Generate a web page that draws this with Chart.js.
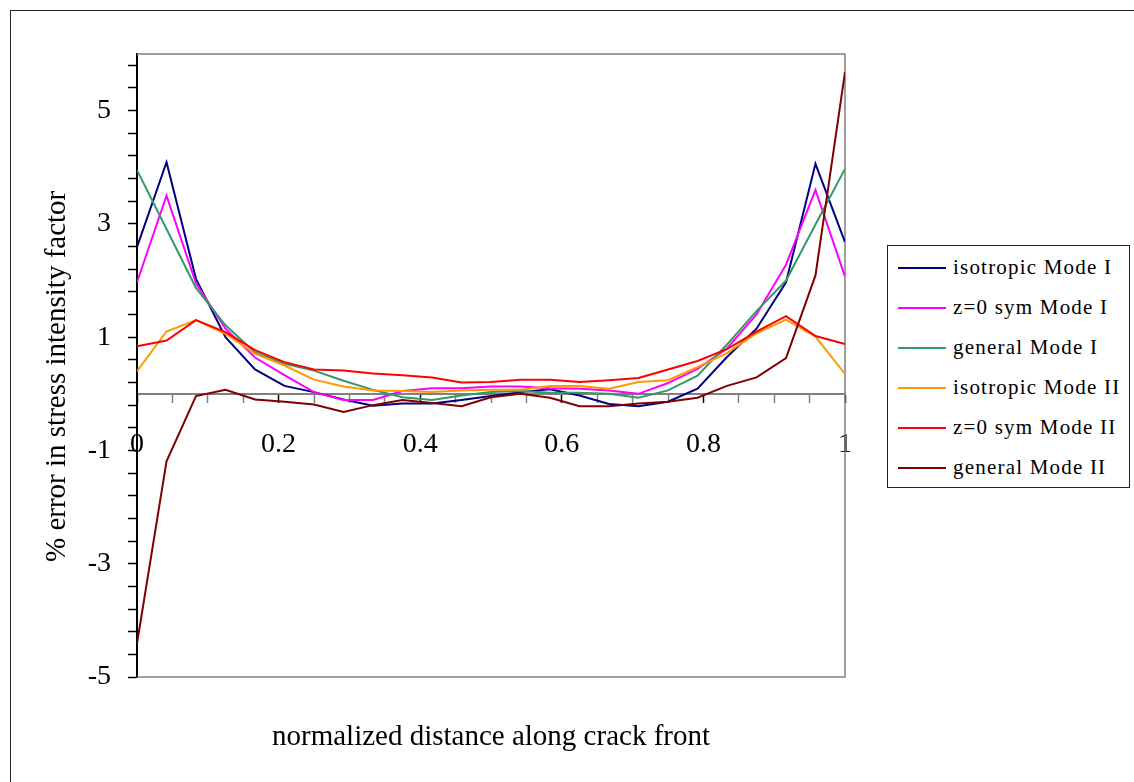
<!DOCTYPE html>
<html>
<head>
<meta charset="utf-8">
<script src="https://cdn.jsdelivr.net/npm/chart.js@4.4.1/dist/chart.umd.min.js"></script>
<style>
    body { margin: 0; background: #fff; font-family: "Liberation Serif", "DejaVu Serif", serif; }
    #wrap { position: relative; width: 1134px; height: 782px; overflow: hidden; }
    #frame { position: absolute; left: 10px; top: 10px; width: 1200px; height: 900px; border: 1px solid #222; }
    #chart { position: absolute; left: 0; top: 0; }
    #legend { position: absolute; left: 887px; top: 245px; width: 241px; height: 241px; border: 1px solid #222; background: #fff; }
    .row { position: absolute; left: 0; width: 240px; height: 2px; }
    .swatch { position: absolute; left: 10px; top: 0; width: 48px; height: 2px; }
    .lbl { position: absolute; left: 65px; top: -12px; white-space: nowrap; font-size: 21px; letter-spacing: 1.2px; color: #000; line-height: 24px; }
</style>
</head>
<body>
<div id="wrap">
    <div id="frame"></div>
    <canvas id="chart" width="1134" height="782"></canvas>
    <div id="legend"></div>
</div>
<script>
// positions along crack front (25 nodes)
const xPositions = [0, 0.0417, 0.0833, 0.125, 0.1667, 0.2083, 0.25, 0.2917, 0.3333, 0.375, 0.4167, 0.4583,
    0.5, 0.5417, 0.5833, 0.625, 0.6667, 0.7083, 0.75, 0.7917, 0.8333, 0.875, 0.9167, 0.9583, 1];

const seriesLabels = ['isotropic Mode I', 'z=0 sym Mode I', 'general Mode I',
    'isotropic Mode II', 'z=0 sym Mode II', 'general Mode II'];
const seriesColors = ['#000080', '#ff00ff', '#339966', '#ff9900', '#ff0000', '#800000'];

const isoModeI = [2.59, 4.09, 2.03, 1.00, 0.43, 0.14, 0.03, -0.10, -0.21, -0.17, -0.17, -0.11,
    -0.04, 0.03, 0.08, -0.03, -0.18, -0.22, -0.14, 0.09, 0.65, 1.15, 1.97, 4.06, 2.68];
const symModeI = [1.97, 3.50, 1.95, 1.15, 0.64, 0.33, 0.03, -0.11, -0.11, 0.05, 0.10, 0.10,
    0.13, 0.13, 0.10, 0.09, 0.06, 0.00, 0.19, 0.44, 0.80, 1.40, 2.28, 3.60, 2.07];
const genModeI = [3.95, 2.91, 1.87, 1.21, 0.73, 0.53, 0.41, 0.23, 0.07, -0.06, -0.11, -0.03,
    0.03, 0.05, 0.02, 0.02, 0.00, -0.07, 0.06, 0.32, 0.87, 1.46, 2.00, 2.99, 3.97];
const isoModeII = [0.40, 1.10, 1.30, 1.06, 0.71, 0.50, 0.25, 0.13, 0.06, 0.05, 0.03, 0.06,
    0.07, 0.07, 0.14, 0.14, 0.09, 0.21, 0.24, 0.47, 0.72, 1.07, 1.31, 1.01, 0.35];
const symModeII = [0.84, 0.94, 1.30, 1.09, 0.77, 0.56, 0.43, 0.41, 0.36, 0.33, 0.29, 0.20,
    0.21, 0.25, 0.25, 0.21, 0.24, 0.28, 0.43, 0.58, 0.79, 1.10, 1.37, 1.02, 0.88];
const genModeII = [-4.41, -1.19, -0.04, 0.07, -0.10, -0.14, -0.19, -0.32, -0.20, -0.11, -0.16, -0.22,
    -0.06, 0.00, -0.07, -0.22, -0.22, -0.17, -0.14, -0.07, 0.14, 0.29, 0.63, 2.09, 5.68];

const seriesValues = [isoModeI, symModeI, genModeI, isoModeII, symModeII, genModeII];

const xTickLabels = [0, 0.2, 0.4, 0.6, 0.8, 1];
const xMinorStep = 0.05;
const yTickLabels = [-5, -3, -1, 1, 3, 5];
const yMinorStep = 0.4;
const yMin = -5, yMax = 6;

const serif = "'Liberation Serif', 'DejaVu Serif', serif";

function near(a, list) {
    return list.some(v => Math.abs(v - a) < 1e-6);
}

/**
 * Plot frame (top, right, bottom edges)
 */
const plotFrame = {
    id: 'plotFrame',
    beforeDatasetsDraw(chart) {
        const { ctx, chartArea: a } = chart;
        ctx.save();
        ctx.strokeStyle = '#808080';
        ctx.lineWidth = 1.5;
        ctx.beginPath();
        ctx.moveTo(a.left, a.top);
        ctx.lineTo(a.right, a.top);
        ctx.lineTo(a.right, a.bottom);
        ctx.lineTo(a.left, a.bottom);
        ctx.stroke();
        ctx.restore();
    }
};

function initChart() {
    const ctx = document.getElementById('chart');

    const datasets = seriesValues.map((vals, i) => ({
        label: seriesLabels[i],
        data: vals.map((v, j) => ({ x: xPositions[j], y: v })),
        borderColor: seriesColors[i],
        backgroundColor: seriesColors[i],
        borderWidth: 2,
        pointRadius: 0,
        tension: 0,
        fill: false,
        order: seriesValues.length - i
    }));

    new Chart(ctx.getContext('2d'), {
        type: 'line',
        data: { datasets: datasets },
        options: {
            responsive: false,
            animation: false,
            devicePixelRatio: 1,
            layout: { padding: { left: 0, top: 54, right: 289, bottom: 0 } },
            plugins: {
                legend: { display: false },
                tooltip: { enabled: false }
            },
            scales: {
                x: {
                    type: 'linear',
                    position: { y: 0 },
                    min: 0,
                    max: 1,
                    afterBuildTicks: function(scale) {
                        const ticks = [];
                        for (let k = 0; k <= Math.round(1 / xMinorStep); k++) {
                            ticks.push({ value: Math.round(k * xMinorStep * 100) / 100 });
                        }
                        scale.ticks = ticks;
                    },
                    ticks: {
                        autoSkip: false,
                        maxRotation: 0,
                        padding: 26,
                        color: '#000',
                        font: { family: serif, size: 28 },
                        callback: function(value) {
                            return near(value, xTickLabels) ? String(+value.toFixed(1)) : '';
                        }
                    },
                    grid: {
                        drawOnChartArea: false,
                        drawTicks: true,
                        tickLength: 8,
                        tickWidth: 1.5,
                        tickColor: function(c) {
                            return near(c.tick.value, xTickLabels) ? '#000' : '#808080';
                        }
                    },
                    border: { color: '#808080', width: 2 }
                },
                xTitle: {
                    type: 'linear',
                    position: 'bottom',
                    min: 0,
                    max: 1,
                    afterFit: function(scale) { scale.height = 782 - 677; },
                    ticks: { display: false },
                    grid: { display: false },
                    border: { display: false },
                    title: {
                        display: true,
                        text: 'normalized distance along crack front',
                        color: '#000',
                        font: { family: serif, size: 29 },
                        padding: { top: 0, bottom: 27 }
                    }
                },
                y: {
                    type: 'linear',
                    position: 'left',
                    min: yMin,
                    max: yMax,
                    afterFit: function(scale) { scale.width = 137; },
                    afterBuildTicks: function(scale) {
                        const ticks = [];
                        for (let v = yMin; v < yMax - 1e-6; v += yMinorStep) {
                            ticks.push({ value: Math.round(v * 10) / 10 });
                        }
                        scale.ticks = ticks;
                    },
                    ticks: {
                        autoSkip: false,
                        padding: 17,
                        color: '#000',
                        font: { family: serif, size: 28 },
                        callback: function(value) {
                            return near(value, yTickLabels) ? String(Math.round(value)) : '';
                        }
                    },
                    grid: {
                        drawOnChartArea: false,
                        drawTicks: true,
                        tickLength: 9,
                        tickWidth: 1.5,
                        tickColor: '#000'
                    },
                    border: { color: '#000', width: 2 },
                    title: {
                        display: true,
                        // trailing spaces nudge the rotated title down a little
                        text: '% error in stress intensity factor\u00a0\u00a0\u00a0',
                        color: '#000',
                        font: { family: serif, size: 29 },
                        padding: { top: 40, bottom: 0 }
                    }
                }
            }
        },
        plugins: [plotFrame]
    });
}

function initLegend() {
    const box = document.getElementById('legend');
    seriesLabels.forEach((label, i) => {
        const row = document.createElement('div');
        row.className = 'row';
        row.style.top = (21 + i * 40) + 'px';
        const sw = document.createElement('div');
        sw.className = 'swatch';
        sw.style.background = seriesColors[i];
        const txt = document.createElement('span');
        txt.className = 'lbl';
        txt.textContent = label;
        row.appendChild(sw);
        row.appendChild(txt);
        box.appendChild(row);
    });
}

document.addEventListener('DOMContentLoaded', function() {
    initChart();
    initLegend();
});
</script>
</body>
</html>
